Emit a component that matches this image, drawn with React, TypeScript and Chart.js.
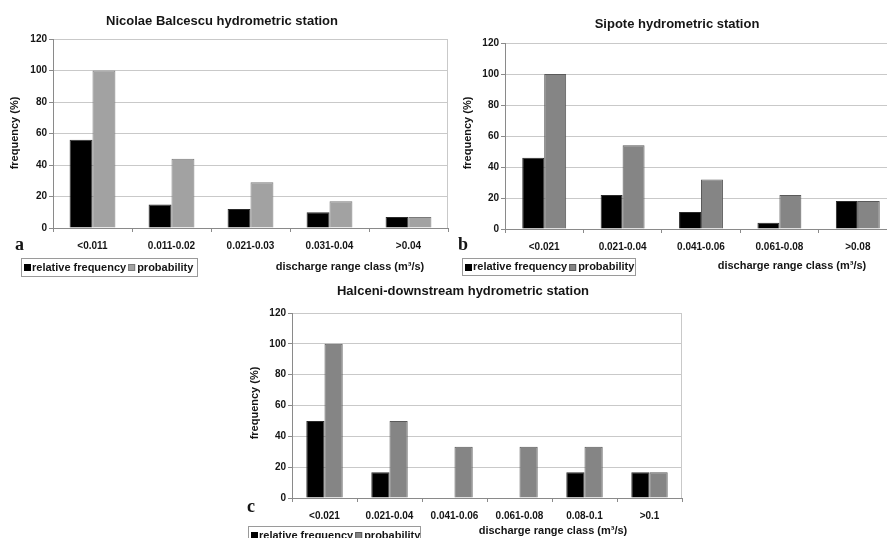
import React, { useEffect, useRef } from "react";
import { Chart, registerables } from "chart.js";

Chart.register(...registerables);

// ---------- data ----------
const labelsA = ["<0.011", "0.011-0.02", "0.021-0.03", "0.031-0.04", ">0.04"];
const relFreqA = [56, 15, 12, 10, 7];
const probA = [100, 44, 29, 17, 7];

const labelsB = ["<0.021", "0.021-0.04", "0.041-0.06", "0.061-0.08", ">0.08"];
const relFreqB = [46, 22, 11, 4, 18];
const probB = [100, 54, 32, 22, 18];

const labelsC = ["<0.021", "0.021-0.04", "0.041-0.06", "0.061-0.08", "0.08-0.1", ">0.1"];
const relFreqC = [50, 16.7, 0, 0, 16.7, 16.7];
const probC = [100, 50, 33.3, 33.3, 33.3, 16.7];

const yMin = 0;
const yMax = 120;
const yStep = 20;

const seriesNames = ["relative frequency", "probability"];
const titleA = "Nicolae Balcescu hydrometric station";
const titleB = "Sipote hydrometric station";
const titleC = "Halceni-downstream hydrometric station";
const xTitle = "discharge range class (m\u00B3/s)";
const yTitle = "frequency (%)";

// ---------- styles ----------
const FONT = '"Liberation Sans", Arial, Helvetica, sans-serif';
const SERIF = '"Liberation Serif", "Times New Roman", serif';
const TEXT = "#151515";
const GRID = "#c9c9c9";
const AXIS = "#8a8a8a";

type Box = { x: number; y: number; w: number; h: number };
type PanelProps = {
  left: number;
  top: number;
  width: number;
  height: number;
  plot: { l: number; t: number; r: number; b: number };
  labels: string[];
  rel: number[];
  prob: number[];
  gray: string;
  grayBorder: string;
  catPct: number;
  title: string;
  titlePos: [number, number];
  yTitlePos: [number, number];
  xTitlePos: [number, number];
  letter: string;
  letterPos: [number, number];
  legendBox: Box;
};

function Panel(p: PanelProps) {
  const ref = useRef<HTMLCanvasElement | null>(null);

  useEffect(() => {
    if (!ref.current) return;
    const ox = p.left;
    const oy = p.top;
    const xh = 30;
    const yw = p.plot.l - ox;
    const padTop = p.plot.t - oy;
    const padBottom = p.height - (p.plot.b - oy) - xh;
    const padRight = p.width - (p.plot.r - ox);

    const overlay = {
      id: "overlay" + p.letter,
      afterDraw(chart: any) {
        const ctx = chart.ctx as CanvasRenderingContext2D;
        const ca = chart.chartArea;
        ctx.save();
        // plot-area right border
        ctx.strokeStyle = GRID;
        ctx.lineWidth = 1;
        const rx = Math.round(ca.right) - 0.5;
        ctx.beginPath();
        ctx.moveTo(rx, Math.round(ca.top));
        ctx.lineTo(rx, Math.round(ca.bottom));
        ctx.stroke();

        ctx.fillStyle = TEXT;
        ctx.textAlign = "center";
        ctx.textBaseline = "middle";
        // title
        ctx.font = `bold 13px ${FONT}`;
        ctx.fillText(p.title, p.titlePos[0] - ox, p.titlePos[1] - oy);
        // y title
        ctx.save();
        ctx.translate(p.yTitlePos[0] - ox, p.yTitlePos[1] - oy);
        ctx.rotate(-Math.PI / 2);
        ctx.font = `bold 11px ${FONT}`;
        ctx.fillText(yTitle, 0, 0);
        ctx.restore();
        // x title
        ctx.font = `bold 11px ${FONT}`;
        ctx.fillText(xTitle, p.xTitlePos[0] - ox, p.xTitlePos[1] - oy);
        // panel letter
        ctx.font = `bold 18px ${SERIF}`;
        ctx.textAlign = "left";
        ctx.textBaseline = "alphabetic";
        ctx.fillText(p.letter, p.letterPos[0] - ox, p.letterPos[1] - oy);

        // legend
        const lb = p.legendBox;
        const bx = lb.x - ox;
        const by = lb.y - oy;
        ctx.strokeStyle = "#9a9a9a";
        ctx.lineWidth = 1;
        ctx.strokeRect(bx + 0.5, by + 0.5, lb.w, lb.h);
        const cy = by + lb.h / 2 + 0.5;
        ctx.font = `bold 11px ${FONT}`;
        ctx.textBaseline = "middle";
        let x = bx + 3;
        ctx.fillStyle = "#000";
        ctx.fillRect(x, Math.round(cy - 3.5), 7, 7);
        x += 8;
        ctx.fillStyle = TEXT;
        ctx.fillText(seriesNames[0], x, cy);
        x += ctx.measureText(seriesNames[0]).width + 2;
        ctx.fillStyle = p.gray;
        ctx.fillRect(x, Math.round(cy - 3.5), 7, 7);
        ctx.strokeStyle = p.grayBorder;
        ctx.strokeRect(x + 0.5, Math.round(cy - 3.5) + 0.5, 6, 6);
        x += 9;
        ctx.fillStyle = TEXT;
        ctx.fillText(seriesNames[1], x, cy);
        ctx.restore();
      },
    };

    const chart = new Chart(ref.current, {
      type: "bar",
      data: {
        labels: p.labels,
        datasets: [
          {
            label: seriesNames[0],
            data: p.rel,
            backgroundColor: "#000000",
            borderColor: "#2a2a2a",
            borderWidth: 1,
            categoryPercentage: p.catPct,
            barPercentage: 1,
          },
          {
            label: seriesNames[1],
            data: p.prob,
            backgroundColor: p.gray,
            borderColor: p.grayBorder,
            borderWidth: 1,
            categoryPercentage: p.catPct,
            barPercentage: 1,
          },
        ],
      },
      options: {
        responsive: false,
        animation: false,
        layout: {
          padding: { left: 0, top: padTop, right: padRight, bottom: padBottom },
        },
        plugins: {
          legend: { display: false },
          title: { display: false },
          tooltip: { enabled: false },
        },
        scales: {
          x: {
            type: "category",
            grid: {
              offset: true,
              drawOnChartArea: false,
              drawTicks: true,
              tickLength: 4,
              tickColor: AXIS,
            },
            border: { color: AXIS, width: 1 },
            ticks: {
              font: { family: FONT, size: 10, weight: "bold" },
              color: TEXT,
              padding: 8,
              maxRotation: 0,
              autoSkip: false,
            },
            afterFit: (s: any) => {
              s.height = xh;
            },
          },
          y: {
            min: yMin,
            max: yMax,
            ticks: {
              stepSize: yStep,
              font: { family: FONT, size: 10, weight: "bold" },
              color: TEXT,
              padding: 2,
            },
            grid: {
              color: GRID,
              lineWidth: 1,
              drawTicks: true,
              tickLength: 4,
              tickColor: AXIS,
            },
            border: { color: AXIS, width: 1 },
            afterFit: (s: any) => {
              s.width = yw;
            },
          },
        },
      },
      plugins: [overlay],
    } as any);
    return () => chart.destroy();
  }, []);

  return (
    <canvas
      ref={ref}
      width={p.width}
      height={p.height}
      style={{
        position: "absolute",
        left: p.left,
        top: p.top,
        width: p.width,
        height: p.height,
      }}
    />
  );
}

export default function App() {
  return (
    <div
      style={{
        position: "fixed",
        left: 0,
        top: 0,
        width: 887,
        height: 538,
        overflow: "hidden",
        background: "#ffffff",
      }}
    >
      <Panel
        left={0}
        top={0}
        width={450}
        height={280}
        plot={{ l: 53, t: 39, r: 448, b: 228 }}
        labels={labelsA}
        rel={relFreqA}
        prob={probA}
        gray="#a2a2a2"
        grayBorder="#7a7a7a"
        catPct={0.58}
        title={titleA}
        titlePos={[222, 21]}
        yTitlePos={[15, 133]}
        xTitlePos={[350, 267]}
        letter="a"
        letterPos={[15, 250]}
        legendBox={{ x: 21, y: 258, w: 176, h: 18 }}
      />
      <Panel
        left={440}
        top={0}
        width={460}
        height={280}
        plot={{ l: 505, t: 43, r: 897, b: 229 }}
        labels={labelsB}
        rel={relFreqB}
        prob={probB}
        gray="#858585"
        grayBorder="#5a5a5a"
        catPct={0.56}
        title={titleB}
        titlePos={[677, 24]}
        yTitlePos={[468, 133]}
        xTitlePos={[792, 266]}
        letter="b"
        letterPos={[458, 250]}
        legendBox={{ x: 462, y: 258, w: 173, h: 17 }}
      />
      <Panel
        left={240}
        top={280}
        width={450}
        height={258}
        plot={{ l: 292, t: 313, r: 682, b: 498 }}
        labels={labelsC}
        rel={relFreqC}
        prob={probC}
        gray="#858585"
        grayBorder="#5a5a5a"
        catPct={0.56}
        title={titleC}
        titlePos={[463, 291]}
        yTitlePos={[255, 403]}
        xTitlePos={[553, 531]}
        letter="c"
        letterPos={[247, 512]}
        legendBox={{ x: 248, y: 526, w: 172, h: 18 }}
      />
    </div>
  );
}
